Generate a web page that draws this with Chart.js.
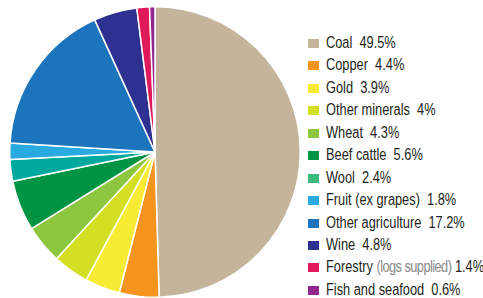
<!DOCTYPE html>
<html><head><meta charset="utf-8">
<script src="https://cdn.jsdelivr.net/npm/chart.js@4/dist/chart.umd.min.js"></script>
<style>
html,body{margin:0;padding:0;background:#fff;width:483px;height:298px;overflow:hidden;}
#wrap{position:relative;width:483px;height:298px;}
#c{position:absolute;left:9px;top:6px;}
#legend{position:absolute;left:308px;top:32px;font-family:"Liberation Sans",Arial,sans-serif;font-size:16px;color:#231f20;white-space:nowrap;}
.row{height:22.45px;line-height:22.45px;position:relative;}
.sw{position:absolute;left:0;top:7px;width:11px;height:9px;}
.txt{position:absolute;left:18px;top:0;white-space:pre;transform:scaleX(0.8);transform-origin:0 50%;}
.note{color:#8a8a8a;letter-spacing:-0.7px;}
</style></head>
<body><div id="wrap"><canvas id="c" width="292" height="292"></canvas><div id="legend"></div></div>
<script>
const categories = ["Coal","Copper","Gold","Other minerals","Wheat","Beef cattle","Wool","Fruit (ex grapes)","Other agriculture","Wine","Forestry","Fish and seafood"];
const notes = ["","","","","","","","","","","(logs supplied)",""];
const values = [49.5,4.4,3.9,4,4.3,5.6,2.4,1.8,17.2,4.8,1.4,0.6];
const valueLabels = ["49.5%","4.4%","3.9%","4%","4.3%","5.6%","2.4%","1.8%","17.2%","4.8%","1.4%","0.6%"];
const sliceColors = ["#c4b49c","#f7941d","#f7ec33","#d4df23","#8dc63f","#009444","#00a99d","#29abe2","#1c75bc","#2e3192","#e0195a","#92278f"];
const legendColors = ["#c4b49c","#f7941d","#f7ec33","#d4df23","#8dc63f","#009444","#3dba7e","#29abe2","#1c75bc","#2e3192","#e0195a","#92278f"];

new Chart(document.getElementById('c'), {
  type: 'pie',
  data: { labels: categories, datasets: [{ data: values, backgroundColor: sliceColors, borderColor: '#ffffff', borderWidth: 1.5 }] },
  options: {
    responsive: false, animation: false, devicePixelRatio: 1,
    layout: { padding: 0 },
    plugins: { legend: { display: false }, tooltip: { enabled: false } }
  }
});

const lg = document.getElementById('legend');
categories.forEach((c, i) => {
  const r = document.createElement('div'); r.className = 'row';
  const s = document.createElement('span'); s.className = 'sw'; s.style.background = legendColors[i]; r.appendChild(s);
  const t = document.createElement('span'); t.className = 'txt';
  t.appendChild(document.createTextNode(c + (notes[i] ? ' ' : '  ')));
  if (notes[i]) { const n = document.createElement('span'); n.className = 'note'; n.textContent = notes[i]; t.appendChild(n); t.appendChild(document.createTextNode(' ')); }
  t.appendChild(document.createTextNode(valueLabels[i]));
  r.appendChild(t);
  lg.appendChild(r);
});
</script></body></html>
